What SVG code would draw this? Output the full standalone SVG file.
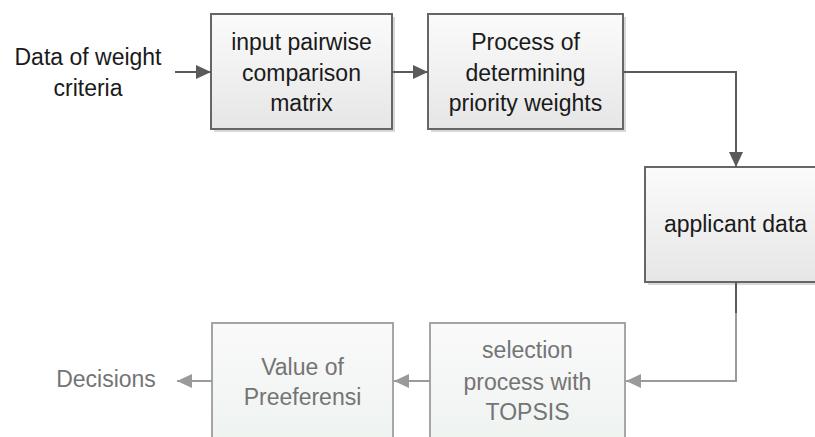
<svg xmlns="http://www.w3.org/2000/svg" width="815" height="437" viewBox="0 0 815 437">
<defs>
<linearGradient id="g" x1="0" y1="0" x2="0" y2="1">
<stop offset="0" stop-color="#fbfbfb"/>
<stop offset="1" stop-color="#e6e6e6"/>
</linearGradient>
<linearGradient id="gf" x1="0" y1="0" x2="0" y2="1">
<stop offset="0" stop-color="#fafafa"/>
<stop offset="1" stop-color="#eef3f0"/>
</linearGradient>
<marker id="ah" markerWidth="15" markerHeight="14" refX="15" refY="7" orient="auto" markerUnits="userSpaceOnUse">
<path d="M0,0 L15,7 L0,14 Z" fill="#5a5a5a"/>
</marker>
<marker id="ahf" markerWidth="15" markerHeight="14" refX="15" refY="7" orient="auto" markerUnits="userSpaceOnUse">
<path d="M0,0 L15,7 L0,14 Z" fill="#9a9a9a"/>
</marker>
</defs>
<style>
text{font-family:"Liberation Sans",Arial,sans-serif;font-size:23px;text-anchor:middle;fill:#1a1a1a}
.box{fill:url(#g);stroke:#666;stroke-width:2}
.shadow{fill:#d8d8d8}
.fbox{fill:url(#gf);stroke:#a5a5a5;stroke-width:2}
.ft{fill:#747474}
.c{fill:none;stroke:#5a5a5a;stroke-width:2;marker-end:url(#ah)}
.cf{fill:none;stroke:#9a9a9a;stroke-width:2;marker-end:url(#ahf)}
</style>
<rect width="815" height="437" fill="#ffffff"/>

<g id="data-criteria">
<text x="88" y="65">Data of weight</text>
<text x="88" y="96">criteria</text>
</g>

<g id="input-matrix">
<rect class="shadow" x="214" y="17" width="181" height="115"/>
<rect class="box" x="211" y="14" width="181" height="115"/>
<text x="301.5" y="50">input pairwise</text>
<text x="301.5" y="81">comparison</text>
<text x="301.5" y="111">matrix</text>
</g>

<g id="priority-weights">
<rect class="shadow" x="431" y="17" width="195" height="115"/>
<rect class="box" x="428" y="14" width="195" height="115"/>
<text x="525.5" y="50">Process of</text>
<text x="525.5" y="81">determining</text>
<text x="525.5" y="111">priority weights</text>
</g>

<g id="applicant-data">
<rect class="shadow" x="648" y="170" width="181" height="115"/>
<rect class="box" x="645" y="167" width="181" height="115"/>
<text x="735.5" y="232">applicant data</text>
</g>

<g id="topsis">
<rect class="fbox" x="430" y="323" width="195" height="120"/>
<text class="ft" x="527.5" y="358">selection</text>
<text class="ft" x="527.5" y="390">process with</text>
<text class="ft" x="527.5" y="420">TOPSIS</text>
</g>

<g id="preference">
<rect class="fbox" x="212" y="323" width="181" height="120"/>
<text class="ft" x="302.5" y="375">Value of</text>
<text class="ft" x="302.5" y="405">Preeferensi</text>
</g>

<g id="decisions">
<text class="ft" x="106" y="387">Decisions</text>
</g>

<g id="connectors">
<path class="c" d="M175,72 H211"/>
<path class="c" d="M392,72 H428"/>
<path class="c" d="M623,72 H736 V167"/>
<path d="M736,282 V313" fill="none" stroke="#5a5a5a" stroke-width="2"/>
<path class="cf" d="M736,313 V381 H626"/>
<path class="cf" d="M430,381 H394"/>
<path class="cf" d="M212,381 H177"/>
</g>
</svg>
